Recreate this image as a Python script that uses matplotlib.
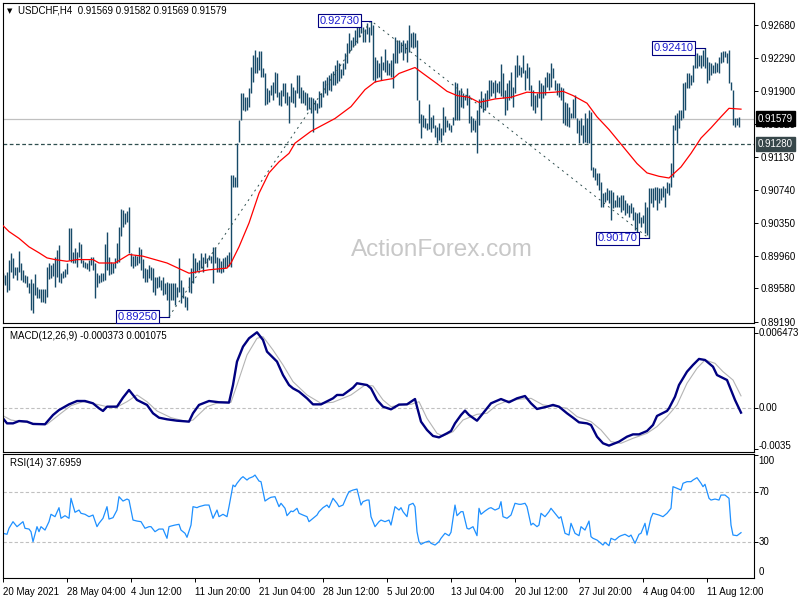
import numpy as np
import matplotlib.pyplot as plt
from matplotlib.transforms import blended_transform_factory

plt.rcParams['font.family'] = ['Liberation Sans', 'DejaVu Sans']

# USDCHF H4 bars, high / low in pips (1/10000), one value per bar
high_pips = [
    8989, 8976, 8974, 8977, 8992, 9000, 8994, 8983, 8983, 9002,
    8988, 8980, 8974, 8973, 8965, 8969, 8965, 8975, 8960, 8957,
    8957, 8957, 8957, 8983, 8988, 8986, 8988, 8995, 9003, 9009,
    8976, 8979, 8981, 8988, 9029, 9029, 9001, 9006, 9001, 9013,
    9010, 8992, 8989, 8988, 8992, 8995, 8995, 8988, 8976, 8974,
    8976, 8976, 9010, 9024, 8995, 8989, 8988, 8994, 9012, 9030,
    9051, 9050, 9047, 9049, 9054, 9000, 8996, 8997, 8996, 9007,
    9005, 8993, 8982, 8981, 8986, 8983, 8982, 8972, 8972, 8973,
    8968, 8972, 8965, 8966, 8964, 8964, 8964, 8964, 8960, 8994,
    8968, 8960, 8949, 8948, 8972, 8982, 9000, 8994, 8989, 8992,
    9000, 8995, 9000, 8994, 8997, 8996, 9007, 9007, 8995, 8994,
    8990, 8994, 8995, 8997, 9001, 9092, 9092, 9089, 9129, 9156,
    9188, 9188, 9183, 9183, 9194, 9219, 9233, 9239, 9230, 9237,
    9237, 9217, 9212, 9194, 9192, 9197, 9201, 9213, 9212, 9189,
    9192, 9200, 9200, 9189, 9185, 9200, 9195, 9192, 9209, 9209,
    9195, 9192, 9189, 9188, 9183, 9183, 9182, 9180, 9176, 9190,
    9188, 9202, 9203, 9207, 9209, 9212, 9214, 9221, 9227, 9223,
    9216, 9223, 9235, 9247, 9259, 9250, 9254, 9262, 9268, 9268,
    9270, 9266, 9263, 9270, 9266, 9273, 9268, 9230, 9227, 9223,
    9232, 9225, 9240, 9227, 9223, 9227, 9235, 9254, 9250, 9250,
    9248, 9250, 9247, 9250, 9268, 9259, 9260, 9259, 9250, 9180,
    9163, 9162, 9159, 9153, 9175, 9160, 9162, 9150, 9148, 9153,
    9147, 9172, 9161, 9156, 9153, 9150, 9160, 9201, 9200, 9192,
    9194, 9188, 9186, 9194, 9186, 9161, 9159, 9156, 9168, 9181,
    9190, 9182, 9188, 9192, 9203, 9203, 9201, 9203, 9200, 9202,
    9222, 9212, 9192, 9200, 9203, 9213, 9195, 9221, 9233, 9221,
    9219, 9233, 9215, 9223, 9219, 9197, 9191, 9186, 9188, 9203,
    9200, 9197, 9207, 9213, 9212, 9223, 9217, 9203, 9200, 9200,
    9195, 9194, 9177, 9176, 9171, 9164, 9181, 9186, 9159, 9156,
    9159, 9150, 9165, 9159, 9168, 9166, 9101, 9100, 9094, 9094,
    9083, 9070, 9072, 9076, 9074, 9074, 9072, 9062, 9068, 9066,
    9068, 9068, 9062, 9058, 9056, 9058, 9054, 9048, 9047, 9048,
    9042, 9045, 9060, 9054, 9076, 9076, 9076, 9077, 9077, 9076,
    9076, 9079, 9076, 9083, 9082, 9106, 9150, 9162, 9164, 9168,
    9168, 9200, 9201, 9212, 9212, 9209, 9221, 9235, 9235, 9233,
    9233, 9239, 9241, 9230, 9225, 9223, 9221, 9225, 9223, 9230,
    9236, 9237, 9238, 9235, 9239, 9201, 9191, 9159, 9159, 9160,
    9158]
low_pips = [
    8970, 8965, 8962, 8954, 8956, 8977, 8970, 8974, 8968, 8977,
    8968, 8966, 8965, 8960, 8953, 8933, 8929, 8950, 8947, 8947,
    8942, 8942, 8941, 8948, 8969, 8970, 8973, 8960, 8972, 8966,
    8965, 8970, 8972, 8975, 8992, 8989, 8988, 8988, 8983, 8995,
    8988, 8983, 8982, 8981, 8979, 8986, 8980, 8947, 8960, 8965,
    8966, 8967, 8968, 8980, 8974, 8975, 8976, 8982, 8988, 8989,
    9020, 9030, 9034, 9036, 9000, 8985, 8982, 8985, 8986, 8988,
    8980, 8970, 8966, 8966, 8970, 8968, 8954, 8950, 8959, 8960,
    8956, 8950, 8952, 8945, 8925, 8944, 8944, 8939, 8948, 8954,
    8941, 8947, 8936, 8933, 8954, 8953, 8965, 8976, 8979, 8980,
    8982, 8977, 8988, 8983, 8992, 8988, 8965, 8988, 8977, 8977,
    8976, 8977, 8982, 8983, 8985, 8983, 9077, 9077, 9077, 9130,
    9156, 9168, 9167, 9168, 9172, 9188, 9201, 9212, 9212, 9215,
    9207, 9207, 9174, 9175, 9177, 9186, 9180, 9188, 9183, 9174,
    9173, 9185, 9176, 9174, 9153, 9177, 9176, 9172, 9188, 9182,
    9176, 9176, 9174, 9168, 9169, 9165, 9142, 9168, 9165, 9170,
    9172, 9183, 9188, 9186, 9191, 9190, 9197, 9197, 9200, 9202,
    9206, 9209, 9216, 9223, 9235, 9239, 9242, 9245, 9247, 9254,
    9259, 9248, 9248, 9257, 9248, 9256, 9203, 9201, 9206, 9207,
    9203, 9215, 9213, 9209, 9209, 9207, 9194, 9223, 9223, 9235,
    9236, 9227, 9235, 9225, 9236, 9242, 9241, 9242, 9180, 9153,
    9135, 9148, 9147, 9145, 9146, 9142, 9147, 9136, 9129, 9133,
    9130, 9139, 9142, 9148, 9145, 9142, 9150, 9156, 9156, 9156,
    9172, 9170, 9180, 9174, 9153, 9142, 9145, 9142, 9117, 9150,
    9170, 9166, 9168, 9172, 9181, 9184, 9188, 9182, 9189, 9188,
    9184, 9182, 9162, 9168, 9180, 9182, 9172, 9188, 9207, 9209,
    9207, 9212, 9191, 9206, 9191, 9173, 9168, 9165, 9172, 9182,
    9156, 9182, 9186, 9195, 9192, 9195, 9206, 9192, 9186, 9183,
    9180, 9153, 9150, 9149, 9148, 9159, 9159, 9159, 9141, 9129,
    9139, 9129, 9130, 9129, 9129, 9097, 9089, 9086, 9080, 9074,
    9054, 9054, 9060, 9062, 9059, 9039, 9053, 9054, 9054, 9054,
    9048, 9050, 9045, 9047, 9042, 9047, 9039, 9027, 9025, 9035,
    9030, 9035, 9023, 9021, 9017, 9059, 9054, 9062, 9050, 9059,
    9062, 9066, 9054, 9070, 9068, 9077, 9089, 9144, 9129, 9147,
    9156, 9159, 9168, 9194, 9194, 9197, 9201, 9218, 9218, 9220,
    9218, 9220, 9218, 9200, 9203, 9209, 9212, 9212, 9213, 9212,
    9223, 9225, 9230, 9223, 9200, 9191, 9150, 9148, 9150, 9148,
    9157]

# red moving average (bar index, price)
ma_x = [1, 4, 9, 14, 19, 23, 27, 33, 38, 46, 49, 57, 64, 71, 83, 94, 104, 113,
        115, 119, 124, 129, 134, 139, 144, 147, 155, 167, 175, 182, 187, 191,
        196, 199, 207, 211, 218, 223, 228, 234, 239, 247, 255, 263, 270, 277,
        281, 286, 293, 298, 304, 311, 318, 323, 329, 334, 340, 345, 350, 355,
        360, 364, 370]
ma_v = [0.9032, 0.9025, 0.9017, 0.9007, 0.9000, 0.8994, 0.8992, 0.8990, 0.8992,
        0.8992, 0.8988, 0.8988, 0.8998, 0.8996, 0.8988, 0.8976, 0.8980, 0.8982,
        0.8988, 0.9007, 0.9035, 0.9070, 0.9094, 0.9107, 0.9117, 0.9129, 0.9143,
        0.9158, 0.9172, 0.9192, 0.9201, 0.9203, 0.9205, 0.9211, 0.9218, 0.9211,
        0.9199, 0.9190, 0.9185, 0.9183, 0.9177, 0.9181, 0.9183, 0.9189, 0.9188,
        0.9189, 0.9190, 0.9185, 0.9176, 0.9160, 0.9145, 0.9125, 0.9105, 0.9094,
        0.9090, 0.9088, 0.9101, 0.9117, 0.9135, 0.9147, 0.9160, 0.9170, 0.9169]

# swing labels
swing_x = [84, 185, 324, 352]
swing_v = [0.89250, 0.92730, 0.90170, 0.92410]

price_last = 0.91579
support = 0.91280
price_ticks = [0.92680, 0.92290, 0.91900, 0.91520, 0.91130, 0.90740,
               0.90350, 0.89960, 0.89580, 0.89190]

# MACD(12,26,9) main and signal, in units of 1e-4
macd_x = [1, 3, 6, 9, 13, 16, 22, 26, 29, 34, 38, 42, 46, 49, 51, 53, 58, 61, 64,
          66, 68, 73, 76, 79, 83, 88, 94, 96, 99, 104, 109, 114, 116, 118, 121,
          124, 128, 131, 133, 138, 141, 144, 146, 149, 153, 156, 160, 166, 168,
          171, 176, 178, 183, 185, 188, 191, 195, 199, 203, 207, 208, 210, 213,
          216, 219, 223, 225, 227, 230, 232, 234, 238, 241, 245, 250, 254, 258,
          262, 265, 268, 273, 276, 279, 283, 286, 289, 293, 295, 298, 301, 304,
          309, 313, 316, 319, 323, 326, 328, 333, 334, 337, 339, 343, 346, 349,
          352, 356, 358, 363, 364, 367, 370]
macd_e4 = [-8.7, -13.0, -13.0, -11.0, -11.5, -13.5, -13.8, -5.8, -1.5, 3.4,
           6.3, 6.3, 4.3, 0.0, -2.3, 1.4, 1.4, 9.2, 15.8, 11.5,
           7.2, 2.9, -4.3, -8.1, -9.5, -10.7, -11.5, -4.3, 2.9, 6.3,
           5.2, 4.9, 20.1, 40.3, 53.2, 60.4, 65.6, 59.0, 48.9, 40.3,
           28.7, 20.1, 17.2, 14.4, 8.6, 3.4, 3.4, 8.6, 11.5, 11.5,
           17.8, 21.6, 20.1, 17.2, 7.2, 1.4, -0.9, 3.2, 3.4, 8.0,
           1.4, -11.5, -18.7, -23.9, -25.1, -21.6, -19.6, -13.0, -5.8, -2.0,
           -5.8, -10.7, -4.3, 4.3, 8.0, 5.2, 8.6, 10.6, 4.3, -0.6,
           1.4, 2.9, 1.4, -4.3, -8.1, -12.1, -13.0, -14.4, -24.5, -30.2,
           -32.2, -28.8, -24.5, -22.5, -22.5, -19.6, -14.4, -6.6, -2.3, 0.0,
           10.0, 20.1, 31.6, 37.4, 42.6, 41.7, 35.9, 28.7, 24.4, 20.1,
           7.2, -3.73]
sig_x = [1, 5, 10, 16, 23, 30, 35, 41, 48, 53, 59, 63, 68, 73, 78, 85, 93, 96,
         103, 110, 115, 118, 123, 128, 131, 136, 141, 146, 153, 160, 166, 175,
         182, 186, 191, 195, 200, 205, 209, 213, 218, 221, 226, 231, 238, 243,
         248, 253, 260, 265, 271, 278, 283, 288, 295, 300, 305, 310, 316, 323,
         328, 333, 338, 343, 348, 352, 357, 361, 366, 370]
sig_e4 = [-6.4, -10.1, -11.5, -13.0, -13.8, -4.3, 2.3, 5.7, 3.4, 1.4,
          2.0, 5.7, 11.5, 5.7, -2.3, -8.1, -11.5, -10.1, 1.4, 5.7,
          5.2, 20.1, 46.0, 60.4, 61.8, 50.3, 37.4, 23.0, 11.5, 4.3,
          5.2, 11.5, 20.1, 19.3, 7.2, 1.4, 2.9, 3.4, 5.7, -8.7,
          -21.6, -23.9, -20.2, -10.1, -5.2, -4.3, 2.9, 6.3, 8.0, 8.6,
          2.9, 1.4, 0.0, -7.2, -11.5, -18.7, -28.8, -30.2, -25.9, -21.6,
          -15.8, -7.2, 2.9, 21.6, 34.5, 41.7, 38.8, 31.6, 24.4, 10.75]

# RSI(14)
rsi_x = [1, 3, 4, 6, 8, 9, 11, 12, 14, 15,
         16, 18, 19, 20, 22, 24, 25, 27, 29, 30,
         32, 34, 35, 37, 39, 40, 42, 44, 46, 48,
         49, 51, 53, 54, 56, 58, 59, 61, 63, 64,
         66, 68, 70, 72, 74, 75, 77, 79, 81, 83,
         84, 85, 87, 89, 90, 92, 93, 95, 96, 98,
         99, 102, 104, 106, 108, 109, 111, 113, 114, 116,
         117, 118, 120, 121, 123, 124, 126, 127, 129, 130,
         132, 134, 135, 137, 139, 140, 142, 143, 145, 146,
         148, 149, 151, 153, 154, 156, 158, 159, 161, 163,
         164, 166, 168, 169, 171, 173, 174, 176, 178, 180,
         181, 183, 184, 185, 187, 189, 190, 192, 194, 195,
         197, 199,
         200, 201, 203, 204, 206, 207, 208, 209, 210, 212,
         214, 215, 217, 219, 220, 222, 224, 225, 227, 228,
         230, 231, 233, 234, 236, 238, 239, 240, 242, 244,
         245, 247, 249, 250, 251, 253, 254, 255, 257, 259,
         260, 262, 263, 265, 266, 268, 269, 270, 272, 274,
         275, 277, 279, 280, 282, 284, 285, 287, 289, 290,
         292, 294, 295, 296, 298, 300, 301, 302, 304, 305,
         307, 309, 310, 312, 314, 315, 317, 319, 320, 322,
         323, 325, 326, 329, 331, 333, 335, 336, 338, 340,
         341, 343, 345, 346, 348, 350, 351, 352, 354, 355,
         357, 359, 360, 362, 364, 365, 366, 368, 370]
rsi_v = [37.2, 36.4, 41.2, 46.5, 42.5, 43.8, 46.5, 41.2, 40.6, 38.5,
         30.5, 42.5, 38.5, 42.5, 39.8, 46.5, 52.4, 50.5, 57.7, 49.2,
         51.3, 49.2, 65.2, 54.0, 55.8, 53.2, 52.4, 50.5, 51.8, 42.5,
         45.2, 49.2, 58.5, 48.6, 49.7, 55.8, 66.5, 63.0, 64.6, 63.8,
         47.8, 47.0, 46.5, 41.2, 42.5, 42.5, 38.5, 40.6, 40.6, 33.2,
         42.5, 43.0, 43.8, 44.4, 39.8, 37.2, 34.0, 43.8, 58.5, 57.7,
         58.5, 59.8, 59.8, 49.2, 55.8, 50.5, 52.4, 50.5, 58.5, 75.8,
         74.5, 77.2, 81.2, 82.5, 79.8, 81.2, 82.5, 83.8, 79.0, 78.5,
         63.0, 65.2, 66.0, 66.5, 58.5, 61.2, 57.2, 51.3, 55.0, 54.5,
         57.2, 53.2, 51.8, 50.5, 46.5, 49.2, 51.8, 54.5, 57.7, 59.8,
         57.7, 65.2, 61.2, 58.5, 59.8, 67.3, 70.5, 71.8, 72.6, 59.8,
         62.5, 63.8, 63.8, 50.5, 42.5, 46.5, 47.8, 46.5, 47.8, 43.8,
         58.5, 55.8,
         57.7, 54.5, 50.5, 59.8, 61.2, 58.5, 38.5, 30.5, 28.4, 30.0,
         31.0, 29.2, 27.8, 30.5, 33.2, 37.2, 35.3, 38.0, 59.8, 51.3,
         54.5, 54.5, 41.2, 40.6, 42.5, 35.3, 57.2, 52.4, 55.0, 57.2,
         57.7, 55.8, 57.2, 62.5, 50.5, 49.2, 50.5, 51.8, 61.2, 60.4,
         60.4, 61.2, 58.5, 43.8, 45.2, 42.5, 43.8, 53.2, 50.5, 54.5,
         57.2, 53.2, 49.2, 50.5, 37.2, 35.8, 45.2, 37.2, 35.3, 42.5,
         39.8, 47.0, 34.5, 33.2, 31.8, 29.2, 27.8, 30.0, 27.3, 33.2,
         31.8, 34.5, 35.3, 36.4, 34.5, 35.8, 29.2, 36.4, 37.2, 45.2,
         35.8, 49.7, 53.2, 51.8, 50.5, 53.2, 57.2, 74.5, 73.2, 71.8,
         77.2, 78.5, 78.5, 79.8, 81.7, 77.2, 74.5, 76.4, 65.2, 63.8,
         64.6, 63.8, 67.8, 67.8, 65.2, 43.8, 35.8, 35.3, 37.7]

time_idx = [1, 33, 65, 97, 129, 161, 193, 225, 257, 289, 321, 353]
time_lbl = ['20 May 2021', '28 May 04:00', '4 Jun 12:00', '11 Jun 20:00',
            '21 Jun 04:00', '28 Jun 12:00', '5 Jul 20:00', '13 Jul 04:00',
            '20 Jul 12:00', '27 Jul 20:00', '4 Aug 04:00', '11 Aug 12:00']

BAR = '#174a68'
NAVY = '#000080'
SILVER = '#c0c0c0'
DARK = '#2f4f4f'
FS = 7

highs = np.array(high_pips) / 10000
lows = np.array(low_pips) / 10000
bars = np.arange(len(highs))

fig = plt.figure(figsize=(8, 6), dpi=100)
L, W = 2.5 / 800, 751.5 / 800
ax = fig.add_axes([L, 1 - 323 / 600, W, 320 / 600])
axm = fig.add_axes([L, 1 - 451.7 / 600, W, 125 / 600], sharex=ax)
axr = fig.add_axes([L, 1 - 578.3 / 600, W, 124 / 600], sharex=ax)

for a in (ax, axm, axr):
    for s in a.spines.values():
        s.set_linewidth(0.8)
        s.set_color('black')
    a.yaxis.tick_right()
    a.tick_params(axis='y', direction='out', length=3, width=0.7,
                  labelsize=FS, pad=2)
    a.tick_params(axis='x', bottom=False, labelbottom=False)

# ---- price panel ----
ax.text(0.585, 0.228, 'ActionForex.com', transform=ax.transAxes, ha='center',
        va='center', fontsize=17.5, color='#c8c8c8', zorder=0)
ax.axhline(price_last, color=SILVER, lw=0.9, zorder=1)
ax.axhline(support, color=DARK, lw=0.9, ls=(0, (3, 2)), zorder=1)
ax.vlines(bars, lows, highs, colors=BAR, lw=1.0, zorder=2)
ax.plot(ma_x, ma_v, color='red', lw=0.9, zorder=3)
ax.plot(swing_x[:3], swing_v[:3], color=DARK, lw=0.7, ls=(0, (2, 4)), zorder=3)

for i, v in zip(swing_x, swing_v):
    ax.plot([i - 5, i], [v, v], color=NAVY, lw=0.8, zorder=4)
    ax.text(i - 5.9, v, '%.5f' % v, ha='right', va='center', fontsize=8,
            color='#1a1ad0', zorder=5,
            bbox=dict(boxstyle='square,pad=0.15', fc='white', ec=NAVY, lw=0.8))

ax.set_xlim(0.75, 376.5)
ax.set_ylim(0.89174, 0.92939)
ax.set_yticks(price_ticks)
ax.set_yticklabels(['%.5f' % t for t in price_ticks])

tr = blended_transform_factory(ax.transAxes, ax.transData)
ax.text(1.0053, price_last, '%.5f' % price_last, transform=tr, ha='left',
        va='center', fontsize=FS, color='white', zorder=10, clip_on=False,
        bbox=dict(boxstyle='square,pad=0.22', fc='black', ec='black'))
ax.text(1.0053, support, '%.5f' % support, transform=tr, ha='left',
        va='center', fontsize=FS, color='white', zorder=10, clip_on=False,
        bbox=dict(boxstyle='square,pad=0.22', fc='#37474a', ec='#37474a'))

fig.text(7 / 800, 1 - 10.7 / 600, '\u25bc', fontsize=5, va='center',
         family='DejaVu Sans')
fig.text(18 / 800, 1 - 10.7 / 600,
         'USDCHF,H4  0.91569 0.91582 0.91569 0.91579', fontsize=FS, va='center')

# ---- MACD panel ----
axm.axhline(0, color=SILVER, lw=0.8, ls=(0, (3, 2)))
axm.plot(sig_x, np.array(sig_e4) * 1e-4, color='#b4b4b4', lw=0.8)
axm.plot(macd_x, np.array(macd_e4) * 1e-4, color=NAVY, lw=1.7)
axm.set_ylim(-0.003746, 0.007042)
axm.set_yticks([0.006473, 0.0, -0.0035])
axm.set_yticklabels([])
trm = blended_transform_factory(axm.transAxes, axm.transData)
for v, s in [(0.0065, '0.006473'), (0.0, '0.00'), (-0.00323, '-0.0035')]:
    axm.text(1.006, v, s, transform=trm, ha='left', va='center', fontsize=FS,
             clip_on=False)
axm.text(7 / 751.5, 1 - 9 / 125, 'MACD(12,26,9) -0.000373 0.001075',
         transform=axm.transAxes, fontsize=FS, va='center')

# ---- RSI panel ----
for lvl in (70, 30):
    axr.axhline(lvl, color=SILVER, lw=0.8, ls=(0, (3, 2)))
axr.plot(rsi_x, rsi_v, color='#1e90ff', lw=0.9)
axr.set_ylim(1.2, 100.4)
axr.set_yticks([100, 70, 30])
axr.set_yticklabels([])
trr = blended_transform_factory(axr.transAxes, axr.transData)
for v, s in [(95, '100'), (70, '70'), (30, '30'), (6.2, '0')]:
    axr.text(1.006, v, s, transform=trr, ha='left', va='center', fontsize=FS,
             clip_on=False)
axr.text(7 / 751.5, 1 - 9 / 124, 'RSI(14) 37.6959',
         transform=axr.transAxes, fontsize=FS, va='center')

axr.tick_params(axis='x', bottom=True, labelbottom=True, direction='out',
                length=3, width=0.7, labelsize=FS, pad=3)
axr.set_xticks(time_idx)
axr.set_xticklabels(time_lbl, ha='left')

fig.savefig('out.png', dpi=100)
